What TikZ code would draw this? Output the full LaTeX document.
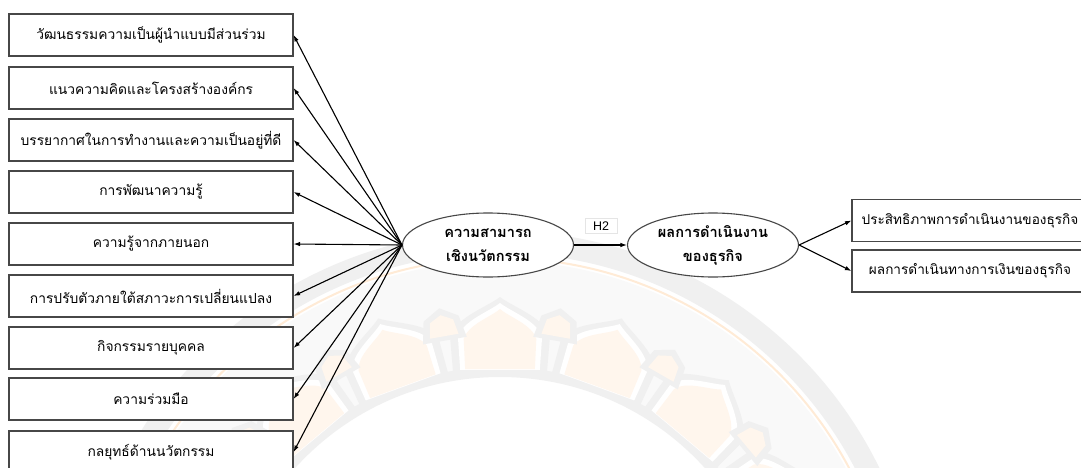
\documentclass[tikz,border=0pt]{standalone}
\usepackage{fontspec}
\setmainfont{Liberation Sans}
\newfontfamily\thai[Script=Thai]{Loma}
\usetikzlibrary{arrows.meta,shapes.geometric}
\begin{document}
\begin{tikzpicture}[x=1pt,y=-1pt,
  factor/.style={draw=black!72, line width=1.1pt, fill=white,
    minimum width=284pt, minimum height=42pt, inner sep=0pt,
    font=\thai\fontsize{13.8}{16}\selectfont},
  outcome/.style={factor, minimum width=236pt, font=\thai\fontsize{13.6}{16}\selectfont},
  construct/.style={ellipse, draw=black!72, line width=1.1pt, fill=white,
    minimum width=171pt, minimum height=64pt, inner sep=0pt, align=center,
    font=\thai\bfseries\fontsize{14.6}{24}\selectfont},
  link/.style={-{Latex[length=6.5pt,width=4.5pt]}, line width=1.1pt, black},
  hyp/.style={fill=white, draw=black!10, line width=0.6pt, inner xsep=8pt, inner ysep=3pt,
    font=\fontsize{12.5}{14}\selectfont}]

\useasboundingbox (0,0) rectangle (1081,468);
\fill[white] (0,0) rectangle (1081,468);

% faint emblem in the background
\begin{scope}
\clip (0,0) rectangle (1081,468);
\begin{scope}[shift={(500,653)}, yscale=-1]
  \fill[gray!5, even odd rule] (0,0) circle (392) (0,0) circle (284);
  \draw[gray!12, line width=22pt] (0,0) circle (411);
  \draw[orange!16, line width=2pt] (0,0) circle (395);
  \draw[gray!12, line width=10pt] (0,0) circle (281);
  \foreach \a in {10,30,...,170} {
    \fill[gray!12] ({\a-9.5}:284) -- ({\a-9}:318) .. controls ({\a-8}:338) and ({\a-2.5}:345) .. (\a:356)
      .. controls ({\a+2.5}:345) and ({\a+8}:338) .. ({\a+9}:318) -- ({\a+9.5}:284) -- cycle;
    \fill[white] ({\a-8}:286) -- ({\a-7.6}:318) .. controls ({\a-6.6}:334) and ({\a-2}:341) .. (\a:350)
      .. controls ({\a+2}:341) and ({\a+6.6}:334) .. ({\a+7.6}:318) -- ({\a+8}:286) -- cycle;
    \fill[orange!7] ({\a-7}:286) -- ({\a-6.6}:316) .. controls ({\a-5.6}:330) and ({\a-1.6}:336) .. (\a:344)
      .. controls ({\a+1.6}:336) and ({\a+5.6}:330) .. ({\a+6.6}:316) -- ({\a+7}:286) -- cycle;
  }
  \foreach \a in {20,40,...,160} {
    \fill[gray!12] ({\a-4}:318) -- ({\a-3}:340) -- (\a:350) -- ({\a+3}:340) -- ({\a+4}:318) -- cycle;
    \fill[orange!7] ({\a-2.6}:322) -- ({\a-2}:337) -- (\a:343) -- ({\a+2}:337) -- ({\a+2.6}:322) -- cycle;
  }
\end{scope}
\end{scope}

% indicators of the first construct
\node[factor] (f1) at (151,35)  {วัฒนธรรมความเป็นผู้นำแบบมีส่วนร่วม};
\node[factor] (f2) at (151,88)  {แนวความคิดและโครงสร้างองค์กร};
\node[factor] (f3) at (151,140) {บรรยากาศในการทำงานและความเป็นอยู่ที่ดี};
\node[factor] (f4) at (151,192) {การพัฒนาความรู้};
\node[factor] (f5) at (151,244) {ความรู้จากภายนอก};
\node[factor] (f6) at (151,296) {การปรับตัวภายใต้สภาวะการเปลี่ยนแปลง};
\node[factor] (f7) at (151,348) {กิจกรรมรายบุคคล};
\node[factor] (f8) at (151,399) {ความร่วมมือ};
\node[factor] (f9) at (151,452) {กลยุทธ์ด้านนวัตกรรม};

% latent constructs
\node[construct] (inno) at (488,245) {ความสามารถ\\เชิงนวัตกรรม};
\node[construct] (perf) at (713,245) {ผลการดำเนินงาน\\ของธุรกิจ};

% indicators of the outcome
\node[outcome] (o1) at (970,220.5) {ประสิทธิภาพการดำเนินงานของธุรกิจ};
\node[outcome] (o2) at (970,271)   {ผลการดำเนินทางการเงินของธุรกิจ};

% connectors
\foreach \i in {1,...,9} \draw[link] (inno.west) -- (f\i.east);
\draw[link] (inno.east) -- (perf.west);
\node[hyp] (h2) at (601,226) {H2};
\draw[link] (perf.east) -- (o1.west);
\draw[link] (perf.east) -- (o2.west);
\end{tikzpicture}
\end{document}
